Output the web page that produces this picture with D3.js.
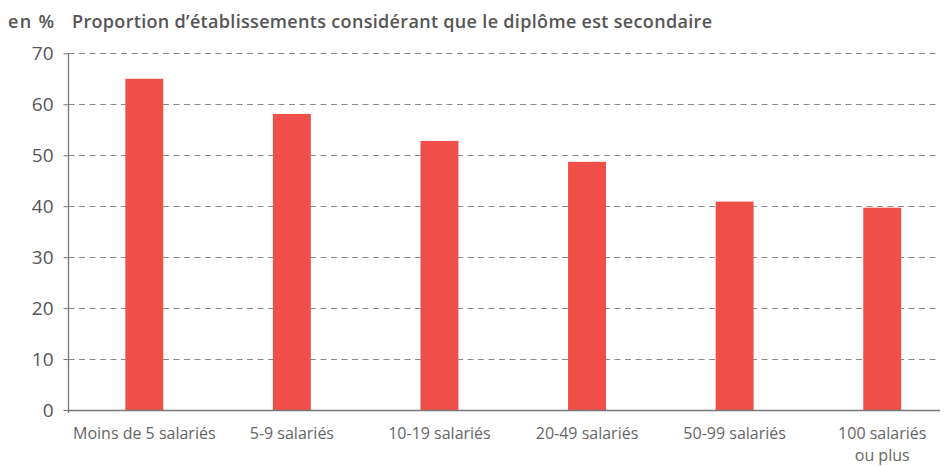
<!DOCTYPE html>
<html lang="fr">
<head>
    <meta charset="UTF-8">
    <title>Proportion d’établissements</title>
    <script src="https://cdnjs.cloudflare.com/ajax/libs/d3/7.8.5/d3.min.js"></script>
    <style>
        body { margin: 0; background: #fff; }
        text { font-family: "Open Sans", "Noto Sans", sans-serif; }
    </style>
</head>
<body>
    <div id="chart"></div>
    <script>
        var w = 944;
        var h = 466;

        // data
        var categories = ["Moins de 5 salariés", "5-9 salariés", "10-19 salariés",
            "20-49 salariés", "50-99 salariés", "100 salariés\nou plus"];
        var values = [65, 58.1, 52.8, 48.7, 40.9, 39.7];
        var yTicks = [0, 10, 20, 30, 40, 50, 60, 70];

        var axisLeft = 68.5, axisRight = 940;
        var y0 = 410, y70 = 53.3;

        var svg = d3.select("#chart").append("svg")
            .attr("width", w)
            .attr("height", h);

        var x = d3.scaleBand()
            .domain(categories)
            .range([70.5, 956])
            .paddingInner(0.743)
            .paddingOuter(0.3715);

        var y = d3.scaleLinear()
            .domain([0, 70])
            .range([y0, y70]);

        // title
        svg.append("text")
            .attr("x", 8).attr("y", 28)
            .attr("font-size", 18).attr("font-weight", 600)
            .attr("fill", "#555")
            .attr("textLength", 46)
            .text("en %");
        svg.append("text")
            .attr("x", 72).attr("y", 28)
            .attr("font-size", 18).attr("font-weight", 600)
            .attr("fill", "#555")
            .attr("textLength", 640)
            .text("Proportion d’établissements considérant que le diplôme est secondaire");

        // gridlines
        svg.selectAll(".grid")
            .data(yTicks.filter(function(d) { return d > 0; }))
            .enter().append("line")
            .attr("x1", axisLeft).attr("x2", axisRight)
            .attr("y1", function(d) { return Math.round(y(d)) + 0.5; })
            .attr("y2", function(d) { return Math.round(y(d)) + 0.5; })
            .attr("stroke", "#888")
            .attr("stroke-dasharray", "6,4.5");

        // bars
        svg.selectAll(".bar")
            .data(values)
            .enter().append("rect")
            .attr("x", function(d, i) { return x(categories[i]); })
            .attr("y", function(d) { return y(d); })
            .attr("width", x.bandwidth())
            .attr("height", function(d) { return y(0) - y(d); })
            .attr("fill", "#f04e48");

        // y axis
        var yAxis = svg.append("g")
            .attr("transform", "translate(" + axisLeft + ",0)")
            .call(d3.axisLeft(y).tickValues(yTicks).tickSize(5).tickPadding(10));
        yAxis.select(".domain").attr("stroke", "#777").attr("stroke-width", 1.3)
            .attr("d", "M0," + y70 + "V" + (y0 + 3));
        yAxis.selectAll(".tick line").attr("stroke", "#777");
        yAxis.selectAll(".tick text")
            .attr("font-size", 19).attr("font-weight", 500)
            .attr("fill", "#555")
            .style("font-family", "'Open Sans', sans-serif");

        // x axis line
        svg.append("line")
            .attr("x1", axisLeft).attr("x2", axisRight)
            .attr("y1", y0 + 0.5).attr("y2", y0 + 0.5)
            .attr("stroke", "#777").attr("stroke-width", 1.3);

        // x labels, one text per line so lines do not overlap
        categories.forEach(function(d) {
            d.split("\n").forEach(function(line, k) {
                svg.append("text")
                    .attr("text-anchor", "middle")
                    .attr("font-size", 16)
                    .attr("fill", "#666")
                    .attr("x", x(d) + x.bandwidth() / 2)
                    .attr("y", 439 + k * 22)
                    .text(line);
            });
        });
    </script>
</body>
</html>
